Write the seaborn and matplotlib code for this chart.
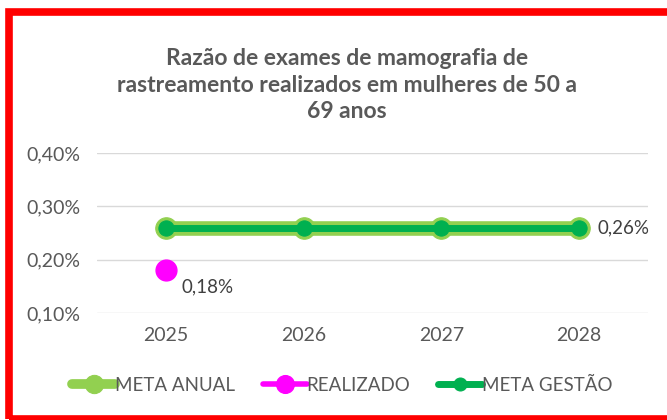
import matplotlib
matplotlib.use("Agg")
import matplotlib.pyplot as plt
import matplotlib.patches as mpatches
import seaborn as sns
import pandas as pd

# data
anos = ["2025", "2026", "2027", "2028"]
meta_anual = [0.26, 0.26, 0.26, 0.26]
realizado = [0.18, None, None, None]
meta_gestao = [0.26, 0.26, 0.26, 0.26]
yticks = [0.10, 0.20, 0.30, 0.40]

sns.set_theme(style="white")
plt.rcParams['font.family'] = ['Lato', 'DejaVu Sans']
cinza = "#595959"

fig = plt.figure(figsize=(6.67, 4.2), dpi=100)
ax = fig.add_axes([97 / 667, 1 - 313 / 420, (648 - 97) / 667, (313 - 153) / 420])

df = pd.DataFrame({"ano": anos, "anual": meta_anual, "real": realizado, "gestao": meta_gestao})
x = list(range(len(anos)))

sns.lineplot(x=x, y=df["anual"], ax=ax, color="#92D050", lw=10.5, marker="o", ms=15.5,
             mec="#92D050", label="META ANUAL", zorder=3)
sns.lineplot(x=x, y=df["gestao"], ax=ax, color="#00B050", lw=5, marker="o", ms=11,
             mec="#00B050", label="META GESTÃO", zorder=4)
ax.plot(x, df["real"].astype(float), color="#FF00FF", marker="o", ms=15, lw=4,
        mec="#FF00FF", label="REALIZADO", zorder=5)

ax.annotate("0,26%", (3, meta_anual[3]), xytext=(13, 0), textcoords="offset points",
            va="center", ha="left", fontsize=13.5, color="#404040")
ax.annotate("0,18%", (0, realizado[0]), xytext=(11, -12), textcoords="offset points",
            va="center", ha="left", fontsize=13.5, color="#404040")

ax.set_xlim(-0.5, 3.5)
ax.set_ylim(0.10, 0.40)
ax.set_yticks(yticks)
ax.set_yticklabels([f"{v:.2f}%".replace(".", ",") for v in yticks], fontsize=14, color=cinza)
ax.set_xticks(x)
ax.set_xticklabels(anos, fontsize=14, color=cinza)
ax.tick_params(axis="y", length=0, pad=12)
ax.tick_params(axis="x", length=0, pad=10)
ax.grid(axis="y", color="#D9D9D9", lw=1)
ax.grid(axis="x", visible=False)
for s in ax.spines.values():
    s.set_visible(False)
ax.set_xlabel("")
ax.set_ylabel("")

handles, labels = ax.get_legend_handles_labels()
order = [labels.index("META ANUAL"), labels.index("REALIZADO"), labels.index("META GESTÃO")]
leg = ax.legend([handles[i] for i in order], [labels[i] for i in order], loc="center",
                bbox_to_anchor=(0.513, 1 - 385 / 420), bbox_transform=fig.transFigure, ncol=3,
                frameon=False, fontsize=13.5, labelcolor=cinza, handlelength=2.3,
                handletextpad=0.0, columnspacing=1.5, markerscale=0.85)
for h in leg.legend_handles:
    h.set_linewidth(min(h.get_linewidth(), 7))

fig.text(0.52, 1 - 85 / 420,
         "Razão de exames de mamografia de\nrastreamento realizados em mulheres de 50 a\n69 anos",
         ha="center", va="center", fontsize=16.5, fontweight="bold", color=cinza, linespacing=1.3)

fig.patches.append(mpatches.Rectangle((8.5 / 667, 1.5 / 420), 1.0, 1 - 13 / 420,
                                      transform=fig.transFigure, fill=False,
                                      edgecolor="#FF0000", lw=5.5))

fig.savefig("out.png", dpi=100, facecolor="white")
